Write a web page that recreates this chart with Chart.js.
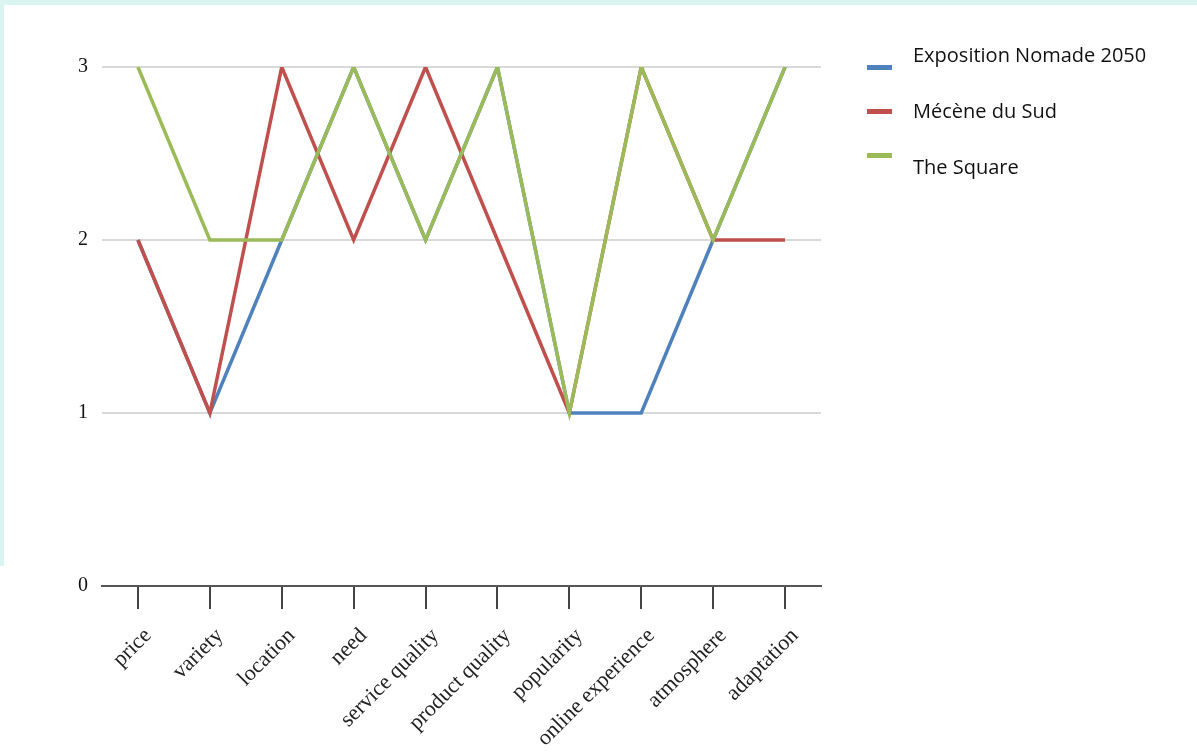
<!DOCTYPE html>
<html>
<head>
<meta charset="utf-8">
<script src="https://cdn.jsdelivr.net/npm/chart.js@4.4.1/dist/chart.umd.min.js"></script>
<style>
  html, body { margin: 0; padding: 0; background: #ffffff; }
  #wrap { position: relative; width: 1197px; height: 756px; overflow: hidden; }
  #topStrip { position: absolute; left: 0; top: 0; width: 1197px; height: 5px; background: #daf4f1; }
  #leftStrip { position: absolute; left: 0; top: 0; width: 4px; height: 566px; background: #daf4f1; }
  canvas { position: absolute; left: 0; top: 0; }
</style>
</head>
<body>
<div id="wrap">
  <div id="topStrip"></div>
  <div id="leftStrip"></div>
  <canvas id="c" width="1197" height="756"></canvas>
</div>
<script>
const categories = ["price", "variety", "location", "need", "service quality", "product quality", "popularity", "online experience", "atmosphere", "adaptation"];
const seriesNames = ["Exposition Nomade 2050", "Mécène du Sud", "The Square"];
const expositionNomade = [2, 1, 2, 3, 2, 3, 1, 1, 2, 3];
const meceneDuSud = [2, 1, 3, 2, 3, 2, 1, 3, 2, 2];
const theSquare = [3, 2, 2, 3, 2, 3, 1, 3, 2, 3];
const yTicks = [0, 1, 2, 3];
const seriesColors = ["#4f81bd", "#c0504d", "#9bbb59"];

const legendPlugin = {
  id: 'customLegend',
  afterDraw(chart) {
    const ctx = chart.ctx;
    const markerY = [67, 111, 155];
    const textY = [56, 112, 168];
    ctx.save();
    chart.data.datasets.forEach((ds, i) => {
      ctx.fillStyle = ds.borderColor;
      ctx.fillRect(867, markerY[i] - 2, 25, 5);
      ctx.fillStyle = '#111';
      ctx.font = '20px "Open Sans", sans-serif';
      ctx.textBaseline = 'middle';
      ctx.textAlign = 'left';
      ctx.fillText(ds.label, 913, textY[i]);
    });
    ctx.restore();
  }
};

const seriesData = [expositionNomade, meceneDuSud, theSquare];
new Chart(document.getElementById('c'), {
  type: 'line',
  data: {
    labels: categories,
    datasets: seriesNames.map((name, i) => ({
      label: name,
      data: seriesData[i],
      borderColor: seriesColors[i],
      backgroundColor: seriesColors[i],
      borderWidth: 3.5,
      pointRadius: 0,
      tension: 0,
      fill: false,
      order: 2 - i
    }))
  },
  options: {
    responsive: false,
    animation: false,
    devicePixelRatio: 1,
    layout: { padding: { left: 0, right: 376, top: 67, bottom: 0 } },
    plugins: { legend: { display: false }, tooltip: { enabled: false } },
    scales: {
      x: {
        type: 'category',
        offset: true,
        grid: { display: true, drawOnChartArea: false, drawTicks: true, tickLength: 23, tickColor: '#444', lineWidth: 2 },
        border: { display: true, color: '#555', width: 2 },
        ticks: {
          autoSkip: false,
          maxRotation: 45,
          minRotation: 45,
          padding: 14,
          labelOffset: 10,
          color: '#222',
          font: { family: '"Liberation Serif", serif', size: 22 }
        },
        afterFit(scale) { scale.height = 170; }
      },
      y: {
        min: 0,
        max: 3,
        afterBuildTicks(scale) { scale.ticks = yTicks.map(v => ({ value: v })); },
        grid: { color: '#d9d9d9', lineWidth: 2, drawTicks: false },
        border: { display: false },
        ticks: {
          padding: 14,
          color: '#111',
          font: { family: '"Liberation Serif", serif', size: 20 }
        },
        afterFit(scale) { scale.width = 102; }
      }
    }
  },
  plugins: [legendPlugin]
});
</script>
</body>
</html>
